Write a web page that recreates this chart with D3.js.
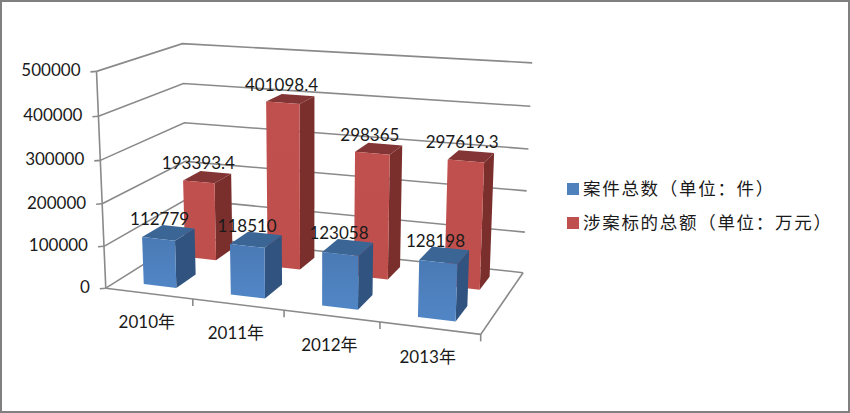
<!DOCTYPE html>
<html><head><meta charset="utf-8">
<script src="https://cdn.jsdelivr.net/npm/d3@7"></script>
<style>html,body{margin:0;padding:0;background:#fff}svg{display:block}
text{font-family:Lato,"Noto Sans CJK SC",sans-serif;fill:#1a1a1a}</style></head>
<body><svg id="c" width="850" height="413"></svg>
<script>
const categories = ["2010年","2011年","2012年","2013年"];
const seriesNames = ["案件总数（单位：件）","涉案标的总额（单位：万元）"];
const caseCounts = [112779,118510,123058,128198];
const caseAmounts = [193393.4,401098.4,298365,297619.3];
const amountLabels = ["193393.4","401098.4","298365","297619.3"];
const valueTicks = [0,100000,200000,300000,400000,500000];

// Camera calibrated from the picture: world (x,depth,height) in 0..1 -> screen
const calib = [
 [[0,0,0],[106,287]],[[0,0,1],[96,72]],[[0,1,0],[187,238]],[[0,1,1],[183,43]],
 [[1,1,0],[523,272]],[[1,1,1],[532,63]],[[1,0,0],[481,335]]];
function solve(A,b){const n=b.length;const M=A.map((r,i)=>[...r,b[i]]);
 for(let i=0;i<n;i++){let p=i;for(let k=i;k<n;k++)if(Math.abs(M[k][i])>Math.abs(M[p][i]))p=k;
  [M[i],M[p]]=[M[p],M[i]];
  for(let k=0;k<n;k++)if(k!==i){const f=M[k][i]/M[i][i];for(let j=i;j<=n;j++)M[k][j]-=f*M[i][j];}}
 return M.map((r,i)=>r[n]/r[i]);}
const rows=[],rhs=[];
calib.forEach(([[x,y,z],[sx,sy]])=>{
 rows.push([x,y,z,1,0,0,0,0,-sx*x,-sx*y,-sx*z]);rhs.push(sx);
 rows.push([0,0,0,0,x,y,z,1,-sy*x,-sy*y,-sy*z]);rhs.push(sy);});
const AtA=d3.range(11).map(i=>d3.range(11).map(j=>d3.sum(rows,r=>r[i]*r[j])));
const Atb=d3.range(11).map(i=>d3.sum(rows,(r,k)=>r[i]*rhs[k]));
const h=solve(AtA,Atb);
function P(x,y,z){const w=h[8]*x+h[9]*y+h[10]*z+1;
 return [(h[0]*x+h[1]*y+h[2]*z+h[3])/w,(h[4]*x+h[5]*y+h[6]*z+h[7])/w];}

const xCat=d3.scaleBand().domain(categories).range([0,1]).paddingInner(0.62).paddingOuter(0.31);
const zVal=d3.scaleLinear().domain([0,500000]).range([0,1]);
const depth={0:[0.13,0.37],1:[0.64,0.87]};
const svg=d3.select("#c");
const line=d3.line();
const poly=pts=>line(pts)+"Z";

svg.append("rect").attr("x",1).attr("y",1).attr("width",848).attr("height",411).attr("fill","#fff").attr("stroke","#808080").attr("stroke-width",2);

const grid="#8a8a8a";
const gAxis=svg.append("g").attr("fill","none").attr("stroke",grid).attr("stroke-width",1.6);
valueTicks.forEach(t=>{const z=zVal(t);
 gAxis.append("path").attr("d",line([P(0,0,z),P(0,1,z),P(1,1,z)]));
 const a=P(0,0,z);
 gAxis.append("path").attr("d",line([[a[0]-6,a[1]+0.5],a]));
});
gAxis.append("path").attr("d",line([P(0,0,1),P(0,0,0)]));
gAxis.append("path").attr("d",line([P(0,0,0),P(1,0,0),P(1,1,0)]));
d3.range(1,5).forEach(i=>{const a=P(i/4,0,0);gAxis.append("path").attr("d",line([a,[a[0],a[1]+7]]));});

const defs=svg.append("defs");
function grad(id,c0,c1){const g=defs.append("linearGradient").attr("id",id).attr("x1",0).attr("x2",0).attr("y1",0).attr("y2",1);
 g.append("stop").attr("offset",0).attr("stop-color",c0);g.append("stop").attr("offset",1).attr("stop-color",c1);}
grad("bf","#4a7ab5","#5186c6");grad("rf","#c0504d","#bf4f4c");
const colors=[{front:"url(#bf)",top:"#3a6594",side:"#30547f"},{front:"url(#rf)",top:"#823534",side:"#7a2f2d"}];

function bar(cat,s,val){
 const x0=xCat(cat),x1=x0+xCat.bandwidth(),[d0,d1]=depth[s],z=zVal(val),c=colors[s];
 const g=svg.append("g");
 g.append("path").attr("d",poly([P(x1,d0,0),P(x1,d1,0),P(x1,d1,z),P(x1,d0,z)])).attr("fill",c.side);
 g.append("path").attr("d",poly([P(x0,d0,z),P(x1,d0,z),P(x1,d1,z),P(x0,d1,z)])).attr("fill",c.top);
 g.append("path").attr("d",poly([P(x0,d0,0),P(x1,d0,0),P(x1,d0,z),P(x0,d0,z)])).attr("fill",c.front);
 return P((x0+x1)/2,(d0+d1)/2,z);
}
const labels=[];
categories.forEach((c,i)=>{const p=bar(c,1,caseAmounts[i]);labels.push([p,amountLabels[i]]);});
categories.forEach((c,i)=>{const p=bar(c,0,caseCounts[i]);labels.push([p,String(caseCounts[i])]);});
labels.forEach(([p,t])=>svg.append("text").attr("x",p[0]-9).attr("y",p[1]-8).attr("text-anchor","middle").attr("font-size",17).text(t));

valueTicks.forEach(t=>{const a=P(0,0,zVal(t));
 svg.append("text").attr("x",a[0]-16).attr("y",a[1]+5).attr("text-anchor","end").attr("font-size",17).text(t);});
categories.forEach((c,i)=>{const a=P((i+0.5)/4,0,0);
 svg.append("text").attr("x",a[0]-2).attr("y",a[1]+35).attr("text-anchor","middle").attr("font-size",17).text(c);});

seriesNames.forEach((n,i)=>{const y=d3.scaleBand().domain(seriesNames).range([172,240])(n)+17;
 svg.append("rect").attr("x",567).attr("y",y-6).attr("width",12).attr("height",12).attr("fill",i?"#c0504d":"#4f81bd");
 svg.append("text").attr("x",583).attr("y",y+6).attr("font-size",17.5).attr("letter-spacing",1.7).attr("font-family","'Noto Sans CJK SC'").text(n);});
</script></body></html>
